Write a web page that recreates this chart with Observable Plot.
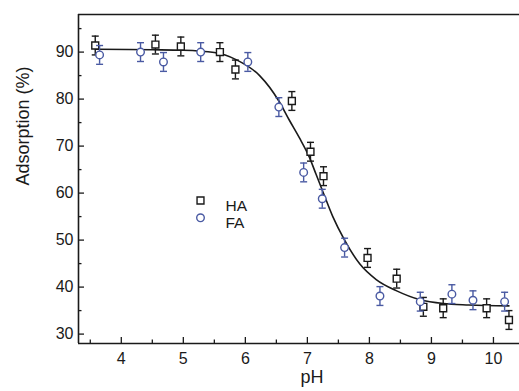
<!DOCTYPE html>
<html>
<head>
<meta charset="utf-8">
<script src="https://cdn.jsdelivr.net/npm/d3@7"></script>
<script src="https://cdn.jsdelivr.net/npm/@observablehq/plot@0.6"></script>
<style>
  html, body { margin: 0; padding: 0; background: #fff; }
  svg { display: block; }
</style>
</head>
<body>
<div id="chart"></div>
<script>
// ---- data ----
const haX   = [3.58, 4.55, 4.96, 5.59, 5.84, 6.75, 7.05, 7.26, 7.97, 8.44, 8.87, 9.19, 9.89, 10.25];
const haY   = [91.4, 91.6, 91.2, 90.0, 86.3, 79.6, 68.8, 63.6, 46.2, 41.8, 35.8, 35.5, 35.5, 33.0];
const haErr = [2.0, 2.0, 2.0, 2.0, 2.0, 2.0, 2.0, 2.0, 2.0, 2.0, 2.0, 2.0, 2.0, 2.0];

const faX   = [3.65, 4.31, 4.68, 5.28, 6.04, 6.54, 6.94, 7.24, 7.60, 8.17, 8.82, 9.33, 9.67, 10.18];
const faY   = [89.4, 90.0, 87.9, 90.0, 87.9, 78.3, 64.4, 58.8, 48.4, 38.1, 36.9, 38.5, 37.2, 36.9];
const faErr = [2.0, 2.0, 2.0, 2.0, 2.0, 2.0, 2.0, 2.0, 2.0, 2.0, 2.0, 2.0, 2.0, 2.0];

// fitted curve, points
const curveX = [3.6, 4.5, 5.0, 5.5, 5.85, 6.23, 6.54, 6.71, 6.87, 7.03, 7.14, 7.25, 7.41, 7.6, 7.84, 8.11, 8.44, 8.82, 9.19, 9.6, 10.25];
const curveY = [90.6, 90.5, 90.4, 89.9, 88.4, 85.0, 79.6, 75.5, 71.8, 67.7, 64.0, 60.3, 55.0, 50.0, 45.0, 41.6, 39.2, 37.3, 36.5, 36.2, 36.0];

const xDomain = [3.31, 10.42];
const yDomain = [28, 98];
const xMajor = [4, 5, 6, 7, 8, 9, 10];
const xMinor = [3.5, 4.5, 5.5, 6.5, 7.5, 8.5, 9.5];
const yMajor = [30, 40, 50, 60, 70, 80, 90];
const yMinor = [35, 45, 55, 65, 75, 85, 95];
const seriesNames = ["HA", "FA"];
const xLabel = "pH";
const yLabel = "Adsorption (%)";

// ---- build tables ----
const ha = haX.map((x, i) => ({x, y: haY[i], lo: haY[i] - haErr[i], hi: haY[i] + haErr[i]}));
const fa = faX.map((x, i) => ({x, y: faY[i], lo: faY[i] - faErr[i], hi: faY[i] + faErr[i]}));
const curve = curveX.map((x, i) => ({x, y: curveY[i]}));

const W = 519, H = 391;
const mL = 78, mR = 0, mT = 14, mB = 48;
const innerW = W - mL - mR, innerH = H - mT - mB;
const black = "#1a1a1a";
const blue = "#4a5aa3";
const font = "'Liberation Sans', Arial, sans-serif";

const hline = {
  draw(ctx, size) {
    const r = Math.sqrt(size / Math.PI);
    ctx.moveTo(-r, 0);
    ctx.lineTo(r, 0);
  }
};

function errMarks(data, color, symbol) {
  return [
    Plot.ruleX(data, {x: "x", y1: "lo", y2: "hi", stroke: color, strokeWidth: 1.4}),
    Plot.dot(data, {x: "x", y: "lo", symbol: hline, r: 3.5, stroke: color, strokeWidth: 1.4}),
    Plot.dot(data, {x: "x", y: "hi", symbol: hline, r: 3.5, stroke: color, strokeWidth: 1.4}),
    Plot.dot(data, {x: "x", y: "y", symbol, r: symbol === "square" ? 3.9 : 3.8, stroke: color, fill: "white", strokeWidth: 1.4})
  ];
}

const chart = Plot.plot({
  width: W,
  height: H,
  marginLeft: mL,
  marginRight: mR,
  marginTop: mT,
  marginBottom: mB,
  style: {fontFamily: font, background: "white", color: black, overflow: "visible"},
  x: {domain: xDomain, ticks: xMajor},
  y: {domain: yDomain, ticks: yMajor},
  marks: [
    // frame lines
    Plot.ruleY(yDomain, {stroke: black, strokeWidth: 1.6}),
    Plot.ruleX([xDomain[0]], {stroke: black, strokeWidth: 1.6}),
    // inward ticks
    Plot.tickY(yMajor, {y: d => d, insetRight: innerW - 6, stroke: black, strokeWidth: 1.3}),
    Plot.tickY(yMinor, {y: d => d, insetRight: innerW - 3.5, stroke: black, strokeWidth: 1.3}),
    Plot.tickX(xMajor, {x: d => d, insetTop: innerH - 6, stroke: black, strokeWidth: 1.3}),
    Plot.tickX(xMinor, {x: d => d, insetTop: innerH - 3.5, stroke: black, strokeWidth: 1.3}),
    // tick labels
    Plot.axisY({ticks: yMajor, tickSize: 0, tickPadding: 5, fontSize: 16, label: null}),
    Plot.axisX({ticks: xMajor, tickSize: 0, tickPadding: 9, fontSize: 16, label: null}),
    // axis titles
    Plot.text([xLabel], {text: d => d, frameAnchor: "bottom", dx: 13, dy: 39, fontSize: 18, fill: black}),
    Plot.text([yLabel], {text: d => d, frameAnchor: "left", rotate: -90, dx: -55, dy: 6.5, fontSize: 18, fill: black}),
    // fitted curve
    Plot.line(curve, {x: "x", y: "y", curve: "monotone-x", stroke: black, strokeWidth: 1.6}),
    // data
    ...errMarks(ha, black, "square"),
    ...errMarks(fa, blue, "circle"),
    // legend
    Plot.dot([seriesNames[0]], {frameAnchor: "top-left", dx: 122, dy: 186, symbol: "square", r: 3.9, stroke: black, strokeWidth: 1.4, fill: "white"}),
    Plot.dot([seriesNames[1]], {frameAnchor: "top-left", dx: 122, dy: 203.3, symbol: "circle", r: 3.8, stroke: blue, strokeWidth: 1.4, fill: "white"}),
    Plot.text([seriesNames[0]], {text: d => d, frameAnchor: "top-left", dx: 147, dy: 185, textAnchor: "start", fontSize: 15.5, fill: black}),
    Plot.text([seriesNames[1]], {text: d => d, frameAnchor: "top-left", dx: 147, dy: 202.5, textAnchor: "start", fontSize: 15.5, fill: black})
  ]
});
document.getElementById("chart").append(chart);
</script>
</body>
</html>
